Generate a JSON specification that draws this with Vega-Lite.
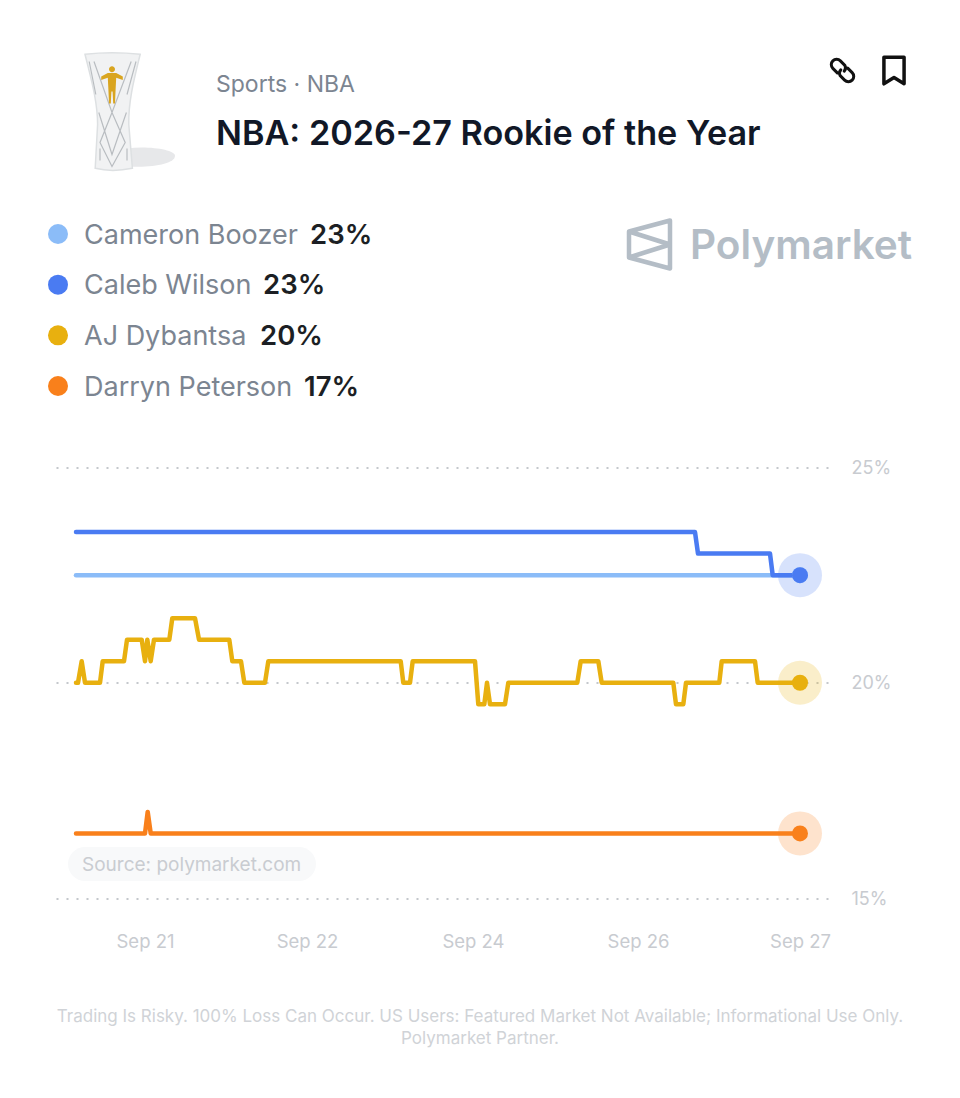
{
"$schema":"https://vega.github.io/schema/vega-lite/v6.json",
"width":774,"height":430.5,"autosize":"none",
"padding":{"left":56,"top":467.5,"right":130,"bottom":200},
"background":"white",
"datasets":{
"lines":[
{"series":"Cameron Boozer","t":0,"v":22.5},{"series":"Cameron Boozer","t":724,"v":22.5},
{"series":"AJ Dybantsa","t":0,"v":20},{"series":"AJ Dybantsa","t":2,"v":20},{"series":"AJ Dybantsa","t":5.7,"v":20.5},{"series":"AJ Dybantsa","t":9,"v":20},{"series":"AJ Dybantsa","t":24,"v":20},{"series":"AJ Dybantsa","t":26.7,"v":20.5},{"series":"AJ Dybantsa","t":48,"v":20.5},{"series":"AJ Dybantsa","t":51,"v":21},{"series":"AJ Dybantsa","t":65.7,"v":21},{"series":"AJ Dybantsa","t":69,"v":20.5},{"series":"AJ Dybantsa","t":71.3,"v":21},{"series":"AJ Dybantsa","t":74.7,"v":20.5},{"series":"AJ Dybantsa","t":78,"v":21},{"series":"AJ Dybantsa","t":93.3,"v":21},{"series":"AJ Dybantsa","t":96.3,"v":21.5},{"series":"AJ Dybantsa","t":119,"v":21.5},{"series":"AJ Dybantsa","t":123,"v":21},{"series":"AJ Dybantsa","t":153.3,"v":21},{"series":"AJ Dybantsa","t":156.3,"v":20.5},{"series":"AJ Dybantsa","t":165,"v":20.5},{"series":"AJ Dybantsa","t":168.3,"v":20},{"series":"AJ Dybantsa","t":189,"v":20},{"series":"AJ Dybantsa","t":192.3,"v":20.5},{"series":"AJ Dybantsa","t":324.7,"v":20.5},{"series":"AJ Dybantsa","t":327.3,"v":20},{"series":"AJ Dybantsa","t":334,"v":20},{"series":"AJ Dybantsa","t":336.7,"v":20.5},{"series":"AJ Dybantsa","t":399,"v":20.5},{"series":"AJ Dybantsa","t":402.3,"v":19.5},{"series":"AJ Dybantsa","t":408.3,"v":19.5},{"series":"AJ Dybantsa","t":411,"v":20},{"series":"AJ Dybantsa","t":414,"v":19.5},{"series":"AJ Dybantsa","t":429,"v":19.5},{"series":"AJ Dybantsa","t":432.3,"v":20},{"series":"AJ Dybantsa","t":501.3,"v":20},{"series":"AJ Dybantsa","t":504.7,"v":20.5},{"series":"AJ Dybantsa","t":522.3,"v":20.5},{"series":"AJ Dybantsa","t":525.7,"v":20},{"series":"AJ Dybantsa","t":597.3,"v":20},{"series":"AJ Dybantsa","t":600,"v":19.5},{"series":"AJ Dybantsa","t":607.3,"v":19.5},{"series":"AJ Dybantsa","t":610,"v":20},{"series":"AJ Dybantsa","t":643.3,"v":20},{"series":"AJ Dybantsa","t":645.7,"v":20.5},{"series":"AJ Dybantsa","t":679,"v":20.5},{"series":"AJ Dybantsa","t":681.7,"v":20},{"series":"AJ Dybantsa","t":724,"v":20},
{"series":"Darryn Peterson","t":0,"v":16.5},{"series":"Darryn Peterson","t":69,"v":16.5},{"series":"Darryn Peterson","t":71.7,"v":17},{"series":"Darryn Peterson","t":74.7,"v":16.5},{"series":"Darryn Peterson","t":724,"v":16.5},
{"series":"Caleb Wilson","t":0,"v":23.5},{"series":"Caleb Wilson","t":619,"v":23.5},{"series":"Caleb Wilson","t":622,"v":23},{"series":"Caleb Wilson","t":694,"v":23},{"series":"Caleb Wilson","t":696.7,"v":22.5},{"series":"Caleb Wilson","t":724,"v":22.5}
],
"ends":[
{"series":"Cameron Boozer","t":724,"v":22.5},{"series":"AJ Dybantsa","t":724,"v":20},{"series":"Darryn Peterson","t":724,"v":16.5},{"series":"Caleb Wilson","t":724,"v":22.5}
],
"legend":[
{"series":"Cameron Boozer","pct":"23%"},{"series":"Caleb Wilson","pct":"23%"},{"series":"AJ Dybantsa","pct":"20%"},{"series":"Darryn Peterson","pct":"17%"}
]
},
"config":{"view":{"stroke":null},"font":"Inter"},
"layer":[
{"layer":[
{"data":{"name":"lines"},
 "mark":{"type":"line","strokeWidth":4.5,"strokeCap":"round","strokeJoin":"round","interpolate":"linear"},
 "encoding":{
  "x":{"field":"t","type":"quantitative","scale":{"domain":[-20,754],"nice":false,"zero":false},
    "axis":{"title":null,"orient":"bottom","domain":false,"ticks":false,"grid":false,"values":[69,231,397,562,724],
      "labelExpr":"datum.value==69?'Sep 21':datum.value==231?'Sep 22':datum.value==397?'Sep 24':datum.value==562?'Sep 26':'Sep 27'",
      "labelFont":"Inter","labelFontSize":18.5,"labelColor":"#C8CBD0","labelPadding":43,"labelBaseline":"middle"}},
  "y":{"field":"v","type":"quantitative","scale":{"domain":[15,25],"nice":false,"zero":false},
    "axis":{"title":null,"orient":"right","domain":false,"ticks":false,"values":[15,20,25],"labelExpr":"datum.value+'%'",
      "grid":true,"gridColor":"#C4C7CC","gridWidth":2,"gridDash":[2,8],"gridDashOffset":8,"labelFont":"Inter","labelFontSize":18,"labelColor":"#C8CBD0","labelPadding":21,"labelOffset":1}},
  "color":{"field":"series","type":"nominal","legend":null,"scale":{"domain":["Cameron Boozer","Caleb Wilson","AJ Dybantsa","Darryn Peterson"],"range":["#8BBCF8","#4A7BF2","#E8B00F","#F9801B"]}}
 }},
{"data":{"name":"ends"},"transform":[{"filter":"datum.series!='Cameron Boozer'"}],
 "mark":{"type":"circle","size":1936,"opacity":0.22},
 "encoding":{"x":{"field":"t","type":"quantitative"},"y":{"field":"v","type":"quantitative"},"color":{"field":"series","type":"nominal","legend":null}}},
{"data":{"name":"ends"},
 "mark":{"type":"circle","size":256,"opacity":1},
 "encoding":{"x":{"field":"t","type":"quantitative"},"y":{"field":"v","type":"quantitative"},"color":{"field":"series","type":"nominal","legend":null}}}
]},
{"data":{"name":"legend"},
 "encoding":{"y":{"field":"series","type":"nominal","sort":null,"axis":null,"scale":{"type":"point","padding":0,"range":[-233.5,-81.5],"domain":["Cameron Boozer","Caleb Wilson","AJ Dybantsa","Darryn Peterson"]}}},
 "layer":[
 {"mark":{"type":"circle","size":400,"opacity":1,"x":2},
  "encoding":{"color":{"field":"series","type":"nominal","legend":null,"scale":{"domain":["Cameron Boozer","Caleb Wilson","AJ Dybantsa","Darryn Peterson"],"range":["#8BBCF8","#4A7BF2","#E8B00F","#F9801B"]}}}},
 {"mark":{"type":"text","align":"left","baseline":"middle","x":28,"dy":1.5,"fontSize":27,"color":"#7C8591","font":"Inter"},
  "encoding":{"text":{"field":"series"}}},
 {"transform":[{"filter":"datum.series=='Cameron Boozer'"}],"mark":{"type":"text","align":"left","baseline":"middle","x":254,"dy":1.5,"fontSize":27.5,"fontWeight":600,"color":"#1C1F24","font":"Inter"},"encoding":{"text":{"field":"pct"}}},
 {"transform":[{"filter":"datum.series=='Caleb Wilson'"}],"mark":{"type":"text","align":"left","baseline":"middle","x":207,"dy":1.5,"fontSize":27.5,"fontWeight":600,"color":"#1C1F24","font":"Inter"},"encoding":{"text":{"field":"pct"}}},
 {"transform":[{"filter":"datum.series=='AJ Dybantsa'"}],"mark":{"type":"text","align":"left","baseline":"middle","x":204,"dy":1.5,"fontSize":27.5,"fontWeight":600,"color":"#1C1F24","font":"Inter"},"encoding":{"text":{"field":"pct"}}},
 {"transform":[{"filter":"datum.series=='Darryn Peterson'"}],"mark":{"type":"text","align":"left","baseline":"middle","x":248,"dy":1.5,"fontSize":27.5,"fontWeight":600,"color":"#1C1F24","font":"Inter"},"encoding":{"text":{"field":"pct"}}}
 ]},
{"data":{"values":[{"s":"Sports · NBA"}]},"mark":{"type":"text","align":"left","baseline":"middle","x":160,"y":-383,"fontSize":23,"color":"#7C8591","font":"Inter"},"encoding":{"text":{"field":"s"}}},
{"data":{"values":[{"s":"NBA: 2026-27 Rookie of the Year"}]},"mark":{"type":"text","align":"left","baseline":"middle","x":160,"y":-333,"fontSize":34.2,"fontWeight":600,"color":"#111827","font":"Inter"},"encoding":{"text":{"field":"s"}}},
{"data":{"values":[{"s":"Polymarket"}]},"mark":{"type":"text","align":"left","baseline":"middle","x":634,"y":-221,"fontSize":40.5,"fontWeight":600,"color":"#B4BDC6","font":"Inter"},"encoding":{"text":{"field":"s"}}},
{"data":{"values":[{"s":"logo"}]},"mark":{"type":"point","x":593,"y":-223,"size":2500,"filled":false,"opacity":1,"stroke":"#B4BDC6","strokeWidth":4.5,"strokeJoin":"round","shape":"M.84 -.96 L-.8 -.52 V.52 L.84 .96 Z M-.8 -.52 L.84 0 L-.8 .52"},"encoding":{}},
{"data":{"values":[{"s":"link"}]},"mark":{"type":"point","x":786.5,"y":-397,"size":784,"filled":false,"opacity":1,"stroke":"#111111","strokeWidth":3,"strokeCap":"round","shape":"M-.37 .17 L-.69 -.15 A.38 .38 0 0 1 -.15 -.69 L.17 -.37 A.38 .38 0 0 1 .12 .05 M.37 -.17 L.69 .15 A.38 .38 0 0 1 .15 .69 L-.17 .37 A.38 .38 0 0 1 -.12 -.05"},"encoding":{}},
{"data":{"values":[{"s":"bookmark"}]},"mark":{"type":"point","x":838,"y":-397,"size":784,"filled":false,"opacity":1,"stroke":"#111111","strokeWidth":3.5,"strokeJoin":"round","shape":"M-.72 -.95 H.72 V.95 L0 .5 L-.72 .95 Z"},"encoding":{}},
{"data":{"values":[{"s":"plate"}]},"mark":{"type":"point","x":56,"y":-355,"size":14400,"filled":true,"opacity":1,"fill":"#E7E8EA","shape":"M.25 .6 C.6 .55 1.05 .62 1.05 .72 C1.05 .85 .7 .92 .3 .9 Z"},"encoding":{}},
{"data":{"values":[{"s":"vase"}]},"mark":{"type":"point","x":56,"y":-355,"size":14400,"filled":true,"opacity":1,"fill":"#F1F2F3","stroke":"#DDE0E2","strokeWidth":1.5,"shape":"M-.45 -.97 Q0 -1.02 .47 -.97 C.38 -.6 .27 -.2 .28 .2 L.34 .93 Q0 1 -.28 .93 L-.24 .2 C-.24 -.2 -.36 -.6 -.45 -.97 Z"},"encoding":{}},
{"data":{"values":[{"s":"facets"}]},"mark":{"type":"point","x":56,"y":-355,"size":14400,"filled":false,"opacity":1,"stroke":"#B9BDC1","strokeWidth":1.2,"shape":"M-.38 -.85 L-.27 -.3 M.4 -.85 L.25 -.3 M-.3 -.85 L.0 .0 L.32 -.85 M-.22 .0 L.0 .7 L.24 .0 M.0 .0 L-.2 .5 L0 .9 L.22 .5 Z M-.2 .6 L-.2 .8 M.25 .6 L.25 .8"},"encoding":{}},
{"data":{"values":[{"s":"figure"}]},"mark":{"type":"point","x":56,"y":-355,"size":14400,"filled":true,"opacity":1,"fill":"#D9A520","shape":"M-.05 -.72 A.05 .05 0 1 1 .05 -.72 A.05 .05 0 1 1 -.05 -.72 Z M-.07 -.66 L.07 -.66 L.18 -.6 L.18 -.54 L.07 -.58 L.06 -.38 L.05 -.15 L.02 -.15 L.01 -.35 L-.01 -.35 L-.02 -.15 L-.05 -.15 L-.06 -.38 L-.07 -.58 L-.18 -.54 L-.18 -.6 Z"},"encoding":{}},
{"data":{"values":[{"s":"pill"}]},"mark":{"type":"rect","x":12,"x2":260,"y":379.5,"y2":413.5,"cornerRadius":17,"fill":"#F8F9FA"},"encoding":{}},
{"data":{"values":[{"s":"Source: polymarket.com"}]},"mark":{"type":"text","align":"left","baseline":"middle","x":26,"y":397,"fontSize":19,"color":"#C9CCD1","font":"Inter"},"encoding":{"text":{"field":"s"}}},
{"data":{"values":[{"s":"Trading Is Risky. 100% Loss Can Occur. US Users: Featured Market Not Available; Informational Use Only."}]},"mark":{"type":"text","align":"center","baseline":"middle","x":424,"y":549,"fontSize":17,"color":"#D0D3D7","font":"Inter"},"encoding":{"text":{"field":"s"}}},
{"data":{"values":[{"s":"Polymarket Partner."}]},"mark":{"type":"text","align":"center","baseline":"middle","x":424,"y":571.5,"fontSize":17,"color":"#D0D3D7","font":"Inter"},"encoding":{"text":{"field":"s"}}}
],
"resolve":{"scale":{"y":"independent","x":"independent","color":"independent"}}
}
